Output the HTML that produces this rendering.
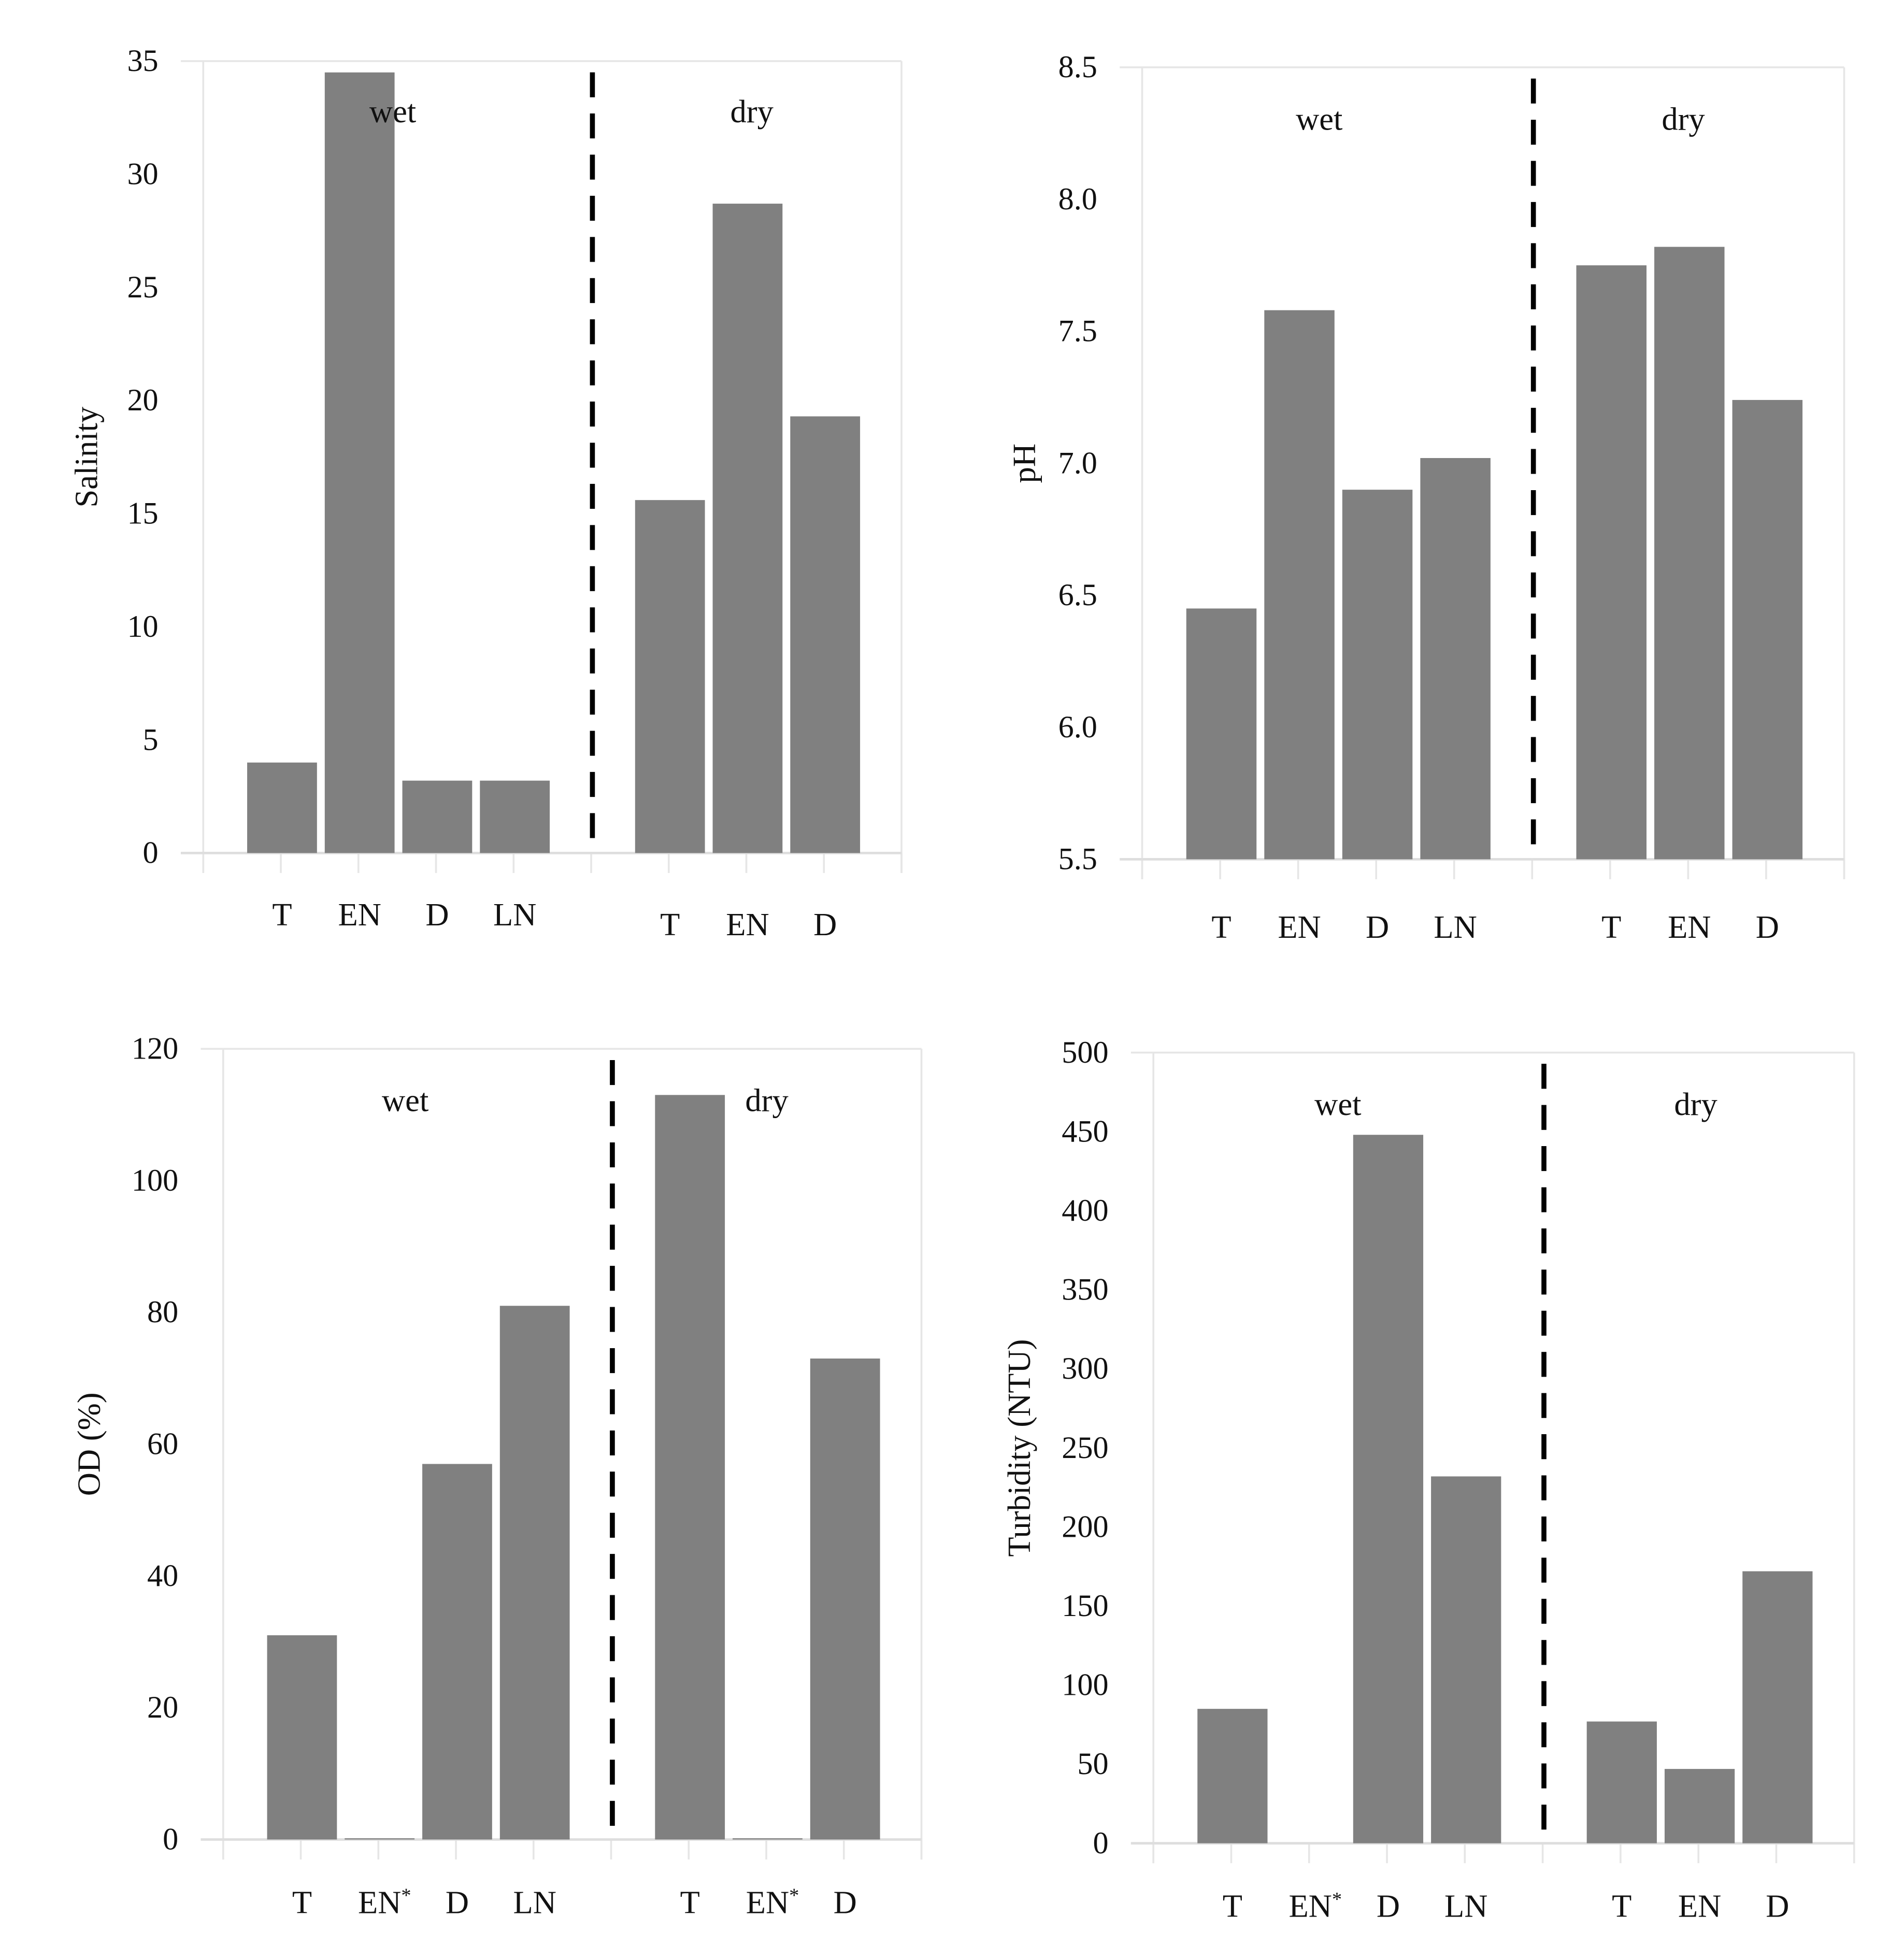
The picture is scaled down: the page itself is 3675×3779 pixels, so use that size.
<!DOCTYPE html>
<html><head><meta charset="utf-8"><style>
html,body{margin:0;padding:0;background:#fff;}
svg{display:block;}
text{font-family:"Liberation Serif",serif;fill:#111;}
</style></head><body>
<svg id="fig" width="3675" height="3779" viewBox="0 0 1527 1570" preserveAspectRatio="none" xmlns="http://www.w3.org/2000/svg"></svg>
<script>
const salCats = ["T","EN","D","LN","T","EN","D"];
const salVals = [4.0, 34.5, 3.2, 3.2, 15.6, 28.7, 19.3];
const salTicks = [0,5,10,15,20,25,30,35];
const phCats = ["T","EN","D","LN","T","EN","D"];
const phVals = [6.45, 7.58, 6.90, 7.02, 7.75, 7.82, 7.24];
const phTicks = [5.5,6.0,6.5,7.0,7.5,8.0,8.5];
const odCats = ["T","EN*","D","LN","T","EN*","D"];
const odVals = [31, 0, 57, 81, 113, 0, 73];
const odTicks = [0,20,40,60,80,100,120];
const turCats = ["T","EN*","D","LN","T","EN","D"];
const turVals = [85, 0, 448, 232, 77, 47, 172];
const turTicks = [0,50,100,150,200,250,300,350,400,450,500];

const NS="http://www.w3.org/2000/svg";
const svg=document.getElementById('fig');
function mk(tag,attrs,parent){const e=document.createElementNS(NS,tag);for(const k in attrs)e.setAttribute(k,attrs[k]);(parent||svg).appendChild(e);return e;}

function panel(name,cfg,cats,vals,ticks){
  const g=mk('g',{});
  
  
  const {L,R,T,B,yMin,yMax,title,titleX,wetX,dryX,labY,catY,dec,zeroLine}=cfg;
  const step=(R-L)/9;
  const y=v=>B-(v-yMin)/(yMax-yMin)*(B-T);
  mk('line',{x1:L,y1:T,x2:L,y2:B+16,stroke:'#e6e6e6','stroke-width':1.5},g);
  mk('line',{x1:R,y1:T,x2:R,y2:B+16,stroke:'#e6e6e6','stroke-width':1.5},g);
  mk('line',{x1:L-18,y1:T,x2:R,y2:T,stroke:'#e6e6e6','stroke-width':1.5},g);
  for(let i=0;i<=9;i++){const x=L+i*step;mk('line',{x1:x,y1:B,x2:x,y2:B+16,stroke:'#e6e6e6','stroke-width':1.5},g);}
  const ax=mk('line',{x1:L-18,y1:B,x2:R,y2:B,stroke:'#dedede','stroke-width':2},g);
  
  
  ticks.forEach(t=>{
    const tx=mk('text',{x:L-36,y:y(t)+8,'text-anchor':'end','font-size':25},g);
    tx.textContent=dec?t.toFixed(1):String(t);
    
    
  });
  const slots=[1,2,3,4,6,7,8];
  vals.forEach((v,i)=>{
    const cx=L+slots[i]*step+1, w=step*0.9;
    const top=y(v);
    let h=B-top;
    if(h<1) h=zeroLine?1:0;
    const r=mk('rect',{x:cx-w/2,y:B-h,width:w,height:h,fill:'#808080'},g);
    
    
    const ct=mk('text',{x:cx+(cats[i]==='EN*'?4:0),y:catY[i<4?0:1],'text-anchor':'middle','font-size':26},g);
    ct.textContent=cats[i].replace('*','');
    if(cats[i].endsWith('*')){const s=mk('tspan',{'font-size':16,dy:-9},ct);s.textContent='*';}
    
    
  });
  const dx=L+5*step+1;
  const d=mk('line',{x1:dx,y1:T+9,x2:dx,y2:B,stroke:'#000','stroke-width':4,'stroke-dasharray':'20 13'},g);
  
  
  const w1=mk('text',{x:wetX,y:labY,'text-anchor':'middle','font-size':26},g);w1.textContent='wet';
  
  
  const d1=mk('text',{x:dryX,y:labY,'text-anchor':'middle','font-size':26},g);d1.textContent='dry';
  
  
  const cy=(T+B)/2;
  const yt=mk('text',{x:titleX,y:cy,'text-anchor':'middle','font-size':26,transform:`rotate(-90 ${titleX} ${cy})`},g);
  yt.textContent=title;
  
  
}
panel('salinity',{L:163,R:723,T:49,B:684,yMin:0,yMax:35,title:'Salinity',titleX:78,wetX:315,dryX:603,labY:98,catY:[742,750],dec:false,zeroLine:true},salCats,salVals,salTicks);
panel('ph',{L:916,R:1479,T:54,B:689,yMin:5.5,yMax:8.5,title:'pH',titleX:830,wetX:1058,dryX:1350,labY:104,catY:[752,752],dec:true,zeroLine:true},phCats,phVals,phTicks);
panel('od',{L:179,R:739,T:841,B:1475,yMin:0,yMax:120,title:'OD (%)',titleX:80,wetX:325,dryX:615,labY:891,catY:[1534,1534],dec:false,zeroLine:true},odCats,odVals,odTicks);
panel('turbidity',{L:925,R:1487,T:844,B:1478,yMin:0,yMax:500,title:'Turbidity (NTU)',titleX:826,wetX:1073,dryX:1360,labY:894,catY:[1537,1537],dec:false,zeroLine:false},turCats,turVals,turTicks);
</script>
</body></html>
